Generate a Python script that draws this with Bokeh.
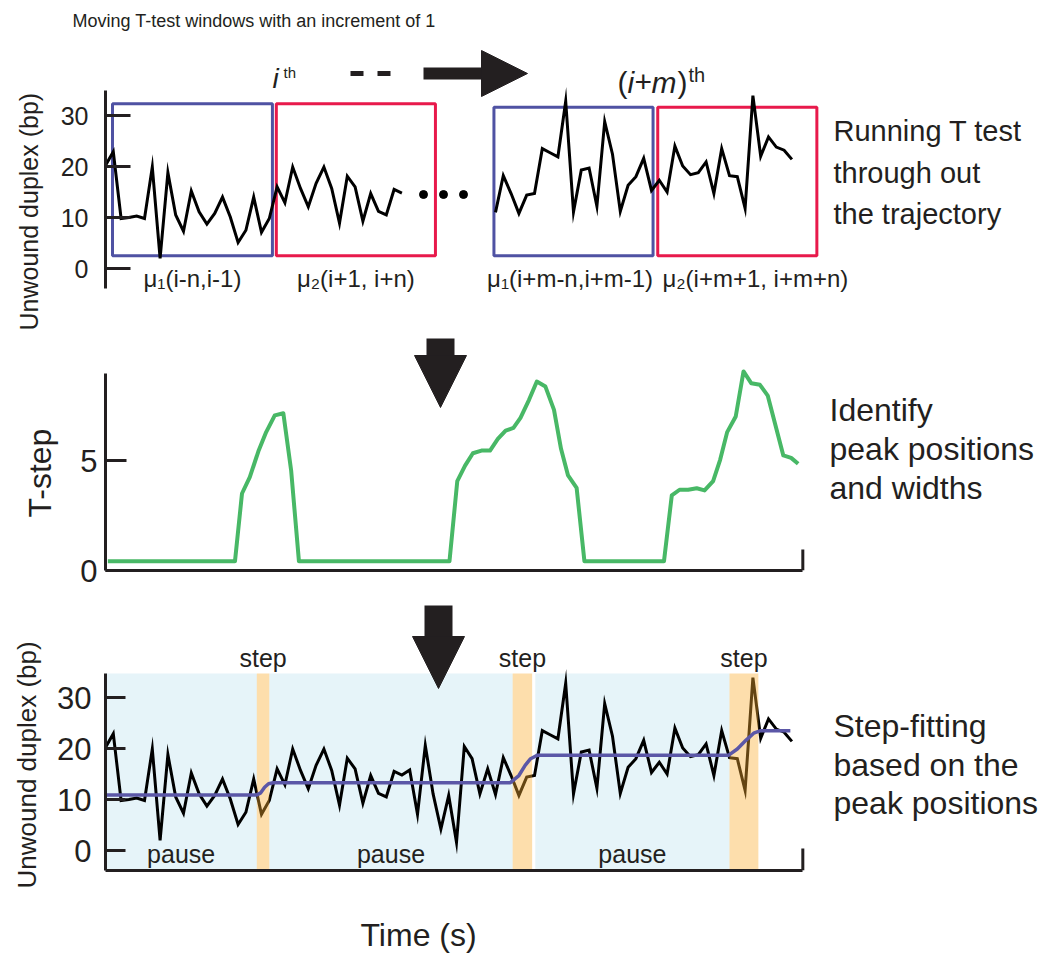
import numpy as np
from bokeh.plotting import figure
from bokeh.layouts import column
from bokeh.models import (Range1d, FixedTicker, LinearAxis, Arrow, NormalHead,
                          Label, ColumnDataSource, Title)
from bokeh.core.properties import value
from bokeh.embed import file_html
from bokeh.resources import INLINE

# ---------------- data ----------------
unwound_bp = [20.2, 22.9, 9.8, 10.0, 10.3, 9.8, 19.9, 2.0, 18.8, 10.5,
              7.3, 15.2, 11.1, 8.7, 10.8, 14.0, 10.1, 5.1, 7.5, 14.0,
              7.1, 9.8, 16.0, 12.9, 19.9, 15.7, 12.1, 16.7, 19.9, 15.7,
              8.9, 18.1, 16.0, 9.3, 14.7, 11.2, 10.5, 15.5, 14.8, 15.8,
              7.1, 20.6, 11.1, 4.2, 10.8, 1.6, 20.4, 18.0, 11.1, 16.0,
              11.0, 18.2, 14.7, 10.8, 14.4, 14.7, 23.5, 22.7, 21.9, 32.8,
              11.1, 19.3, 19.7, 12.2, 28.8, 22.4, 11.2, 16.3, 18.0, 21.6,
              15.3, 17.3, 15.0, 24.0, 20.1, 18.4, 18.8, 20.9, 14.7, 23.5,
              18.2, 18.0, 11.8, 33.9, 22.0, 25.8, 23.8, 23.2, 21.4]
time_s = np.arange(len(unwound_bp))

tstep_time = [0.3, 16.6, 17.5, 18.5, 19.6, 20.6, 21.7, 22.8, 23.8, 24.8,
              44.1, 45.1, 46.1, 47.1, 48.2, 49.3, 50.3, 51.3, 52.3, 53.2,
              54.3, 55.3, 56.4, 57.5, 58.4, 59.3, 60.4, 61.4,
              71.6, 72.6, 73.6, 74.7, 75.8, 76.8, 77.9, 78.8, 79.7, 80.8,
              81.8, 82.8, 83.9, 84.9, 85.9, 86.9, 87.9, 88.8]
tstep_value = [0.42, 0.42, 3.5, 4.24, 5.42, 6.29, 7.05, 7.15, 4.55, 0.42,
               0.42, 4.06, 4.77, 5.33, 5.45, 5.45, 5.98, 6.36, 6.48, 6.94,
               7.76, 8.59, 8.36, 7.30, 5.53, 4.32, 3.76, 0.42,
               0.42, 3.41, 3.67, 3.67, 3.74, 3.64, 4.06, 5.03, 6.29, 7.0,
               9.05, 8.51, 8.44, 7.95, 6.59, 5.23, 5.12, 4.85]

fit_time = [0, 19.4, 19.9, 20.4, 20.9, 21.5, 51.9, 53.0, 53.8, 54.5, 55.4,
            79.9, 81.0, 82.1, 83.1, 84.0, 87.8]
fit_bp = [10.9, 10.9, 11.3, 12.4, 13.1, 13.3, 13.3, 14.7, 16.7, 18.0, 18.7,
          18.7, 19.9, 21.6, 23.0, 23.5, 23.5]

pause_start = [0.0, 21.0, 55.1]
pause_end = [19.4, 52.2, 80.0]
step_start = [19.4, 52.2, 80.0]
step_end = [21.0, 54.7, 83.7]

win_left = [0.9, 21.9, 49.8, 70.8]
win_right = [21.4, 42.3, 70.2, 91.2]
win_top = [32.3, 32.3, 31.6, 31.6]
win_bottom = [2.5, 2.5, 2.5, 2.5]
win_kind = ["before", "after", "before", "after"]
win_labels = ["μ₁(i-n,i-1)", "μ₂(i+1, i+n)", "μ₁(i+m-n,i+m-1)", "μ₂(i+m+1, i+m+n)"]

bp_ticks = [0, 10, 20, 30]
tstep_ticks = [0, 5]
time_axis_end = 89.4

# ---------------- styling helpers ----------------
FONT = "Liberation Sans"
INK = "#231F20"
BLUE_BOX = "#4F52A3"
RED_BOX = "#E8194B"
GREEN = "#48B866"
FIT = "#5B57A7"
PAUSE_BG = "#E6F4F9"
STEP_BG = "#FAAC30"

W = 1046
LEFT = 105
X_END = (W - LEFT) / 7.8  # time units across the frame (7.8 px per sample)
BASE_FIX = 0.34           # baseline correction, in em


def tx(px):
    return (px - LEFT) / 7.8


def bl(py, size):
    # page baseline -> position handed to bokeh (alphabetic baseline)
    return py - BASE_FIX * size


def y_top(py):
    return (268 - py) / 5.1


def y_mid(py):
    return (570 - py) / 22.0


def y_bot(py):
    return (850 - py) / 5.1


def make_fig(height, y0, y1, mb, mt=0, xr=(0, X_END)):
    p = figure(width=W, height=height, x_range=Range1d(*xr),
               y_range=Range1d(y0, y1), output_backend="svg",
               toolbar_location=None, x_axis_location=None,
               y_axis_location=None, title=None,
               min_border_left=LEFT, min_border_right=0,
               min_border_top=mt, min_border_bottom=mb)
    p.outline_line_color = None
    p.background_fill_color = "white"
    p.border_fill_color = "white"
    for g in p.grid:
        g.visible = False
    return p


def style_axis(ax, tick_in, lab_size, standoff):
    ax.axis_line_width = 3
    ax.axis_line_color = INK
    ax.major_tick_line_width = 3
    ax.major_tick_line_color = INK
    ax.major_tick_in = tick_in
    ax.major_tick_out = 0
    ax.minor_tick_in = 0
    ax.minor_tick_out = 0
    ax.major_label_text_font = FONT
    ax.major_label_text_font_size = lab_size
    ax.major_label_text_color = INK
    ax.major_label_standoff = standoff


def side_title(p, text, size, offset, standoff):
    p.add_layout(Title(text=text, text_font=FONT, text_font_size=size,
                       text_font_style="normal", text_color=INK,
                       align="left", vertical_align="top",
                       offset=offset, standoff=standoff), "left")


def txt(p, xs, ys, texts, size, align="left", style="normal"):
    p.text(x=xs, y=ys, text=texts, text_font=value(FONT),
           text_font_size=value(f"{size}px"), text_align=align,
           text_baseline="alphabetic", text_color=INK,
           text_font_style=style)


def lab(p, x, y, text, size, style="normal"):
    p.add_layout(Label(x=x, y=y, text=text, text_font=FONT,
                       text_font_size=f"{size}px", text_color=INK,
                       text_font_style=style, text_baseline="alphabetic"))


# ================= top panel (page y 0-335, frame 40-335) =================
p1 = make_fig(335, y_top(335), y_top(40), 0, mt=40)
p1.add_layout(Title(text="Moving T-test windows with an increment of 1",
                    text_font=FONT, text_font_size="18px",
                    text_font_style="normal", text_color=INK,
                    align="left", vertical_align="top",
                    offset=72 - LEFT, standoff=16), "above")
ay1 = LinearAxis(bounds=(-3.9, 34.9), ticker=FixedTicker(ticks=bp_ticks))
style_axis(ay1, 25, "25px", 17)
p1.add_layout(ay1, "left")
side_title(p1, "Unwound duplex (bp)", "25px", 5, 25)

wsrc = ColumnDataSource(dict(left=win_left, right=win_right, top=win_top,
                             bottom=win_bottom,
                             color=[BLUE_BOX if k == "before" else RED_BOX
                                    for k in win_kind]))
p1.quad(left="left", right="right", top="top", bottom="bottom",
        source=wsrc, fill_color=None, line_color="color", line_width=3)

p1.line(time_s[0:39], unwound_bp[0:39], line_color="black", line_width=3,
        line_join="miter")
p1.line(time_s[50:89], unwound_bp[50:89], line_color="black", line_width=3,
        line_join="miter")

lab_y = y_top(bl(286, 24))
txt(p1, [(win_left[0] + win_right[0]) / 2, (win_left[1] + win_right[1]) / 2],
    [lab_y, lab_y], win_labels[0:2], 24, align="center")
txt(p1, [win_right[2]], [lab_y], [win_labels[2]], 24, align="right")
txt(p1, [win_left[3] + 0.6], [lab_y], [win_labels[3]], 24, align="left")

p1.scatter(x=[tx(423), tx(443), tx(463)], y=[y_top(194)] * 3, size=8,
           color="black")
p1.segment(x0=[tx(350), tx(377)], x1=[tx(363), tx(390)],
           y0=[y_top(73)] * 2, y1=[y_top(73)] * 2, line_width=5,
           line_color=INK)
p1.add_layout(Arrow(x_start=tx(423), y_start=y_top(73), x_end=tx(527),
                    y_end=y_top(73), line_width=12, line_color=INK,
                    end=NormalHead(size=46, fill_color=INK, line_color=INK,
                                   line_width=1)))

lab(p1, tx(272), y_top(bl(88, 28)), "i", 28, "italic")
lab(p1, tx(283), y_top(bl(77, 15)), "th", 15)
lab(p1, tx(617), y_top(bl(92, 30)), "(", 30)
lab(p1, tx(627), y_top(bl(92, 30)), "i", 30, "italic")
lab(p1, tx(634), y_top(bl(92, 30)), "+", 30)
lab(p1, tx(651), y_top(bl(92, 30)), "m", 30, "italic")
lab(p1, tx(677), y_top(bl(92, 30)), ")", 30)
lab(p1, tx(688), y_top(bl(81, 20)), "th", 20)

txt(p1, [tx(833)] * 3,
    [y_top(bl(140, 29)), y_top(bl(182, 29)), y_top(bl(223, 29))],
    ["Running T test", "through out", "the trajectory"], 29)

# ================= middle panel (page y 335-590) =================
p2 = make_fig(255, 0, y_mid(335), 20)
ay2 = LinearAxis(bounds=(0, 8.95), ticker=FixedTicker(ticks=tstep_ticks))
style_axis(ay2, 21, "31px", 8)
p2.add_layout(ay2, "left")
side_title(p2, "T-step", "32px", 53, 36)
ax2 = LinearAxis(bounds=(0, time_axis_end), ticker=FixedTicker(ticks=[]))
style_axis(ax2, 21, "20px", 0)
p2.add_layout(ax2, "below")
p2.segment(x0=[time_axis_end], x1=[time_axis_end], y0=[0], y1=[y_mid(549)],
           line_width=3, line_color=INK)

p2.line(tstep_time, tstep_value, line_color=GREEN, line_width=4,
        line_join="round")
p2.add_layout(Arrow(x_start=tx(440), y_start=y_mid(338), x_end=tx(440),
                    y_end=y_mid(407), line_width=28, line_color=INK,
                    end=NormalHead(size=52, fill_color=INK, line_color=INK,
                                   line_width=1)))
txt(p2, [tx(829)] * 3,
    [y_mid(bl(420, 32)), y_mid(bl(459, 32)), y_mid(bl(498, 32))],
    ["Identify", "peak positions", "and widths"], 32)

# ================= bottom panel (page y 590-890) =================
p3 = make_fig(300, y_bot(870), y_bot(590), 20)
ay3 = LinearAxis(bounds=(-3.92, 34.7), ticker=FixedTicker(ticks=bp_ticks))
style_axis(ay3, 20, "31px", 14)
p3.add_layout(ay3, "left")
side_title(p3, "Unwound duplex (bp)", "26px", -18, 21)
ax3 = LinearAxis(bounds=(0, time_axis_end), ticker=FixedTicker(ticks=[]))
style_axis(ax3, 22, "20px", 0)
p3.add_layout(ax3, "below")

p3.quad(left=pause_start, right=pause_end, top=34.7, bottom=-3.92,
        fill_color=PAUSE_BG, line_color=None)
p3.line(time_s, unwound_bp, line_color="black", line_width=3,
        line_join="miter")
p3.quad(left=step_start, right=step_end, top=34.7, bottom=-3.92,
        fill_color=STEP_BG, fill_alpha=0.4, line_color=None)
p3.line(fit_time, fit_bp, line_color=FIT, line_width=3.5, line_join="round")
p3.segment(x0=[time_axis_end], x1=[time_axis_end], y0=[-3.92],
           y1=[y_bot(848)], line_width=3, line_color=INK)

step_mid = [(a + b) / 2 for a, b in zip(step_start, step_end)]
pause_mid = [(a + b) / 2 for a, b in zip(pause_start, pause_end)]
txt(p3, step_mid, [y_bot(bl(666, 25))] * 3, ["step"] * 3, 25, align="center")
txt(p3, pause_mid, [y_bot(bl(862, 25))] * 3, ["pause"] * 3, 25,
    align="center")

p3.add_layout(Arrow(x_start=tx(438), y_start=y_bot(605), x_end=tx(438),
                    y_end=y_bot(688), line_width=28, line_color=INK,
                    end=NormalHead(size=52, fill_color=INK, line_color=INK,
                                   line_width=1)))
txt(p3, [tx(833)] * 3,
    [y_bot(bl(736, 32)), y_bot(bl(775, 32)), y_bot(bl(813, 32))],
    ["Step-fitting", "based on the", "peak positions"], 32)

# ================= x-axis title strip (page y 890-955) =================
p4 = make_fig(65, 0, 65, 0, xr=(LEFT, W))
txt(p4, [360], [955 - bl(945, 32)], ["Time (s)"], 32)

layout = column(p1, p2, p3, p4, spacing=0)
open("out.html", "w").write(file_html(layout, INLINE))
